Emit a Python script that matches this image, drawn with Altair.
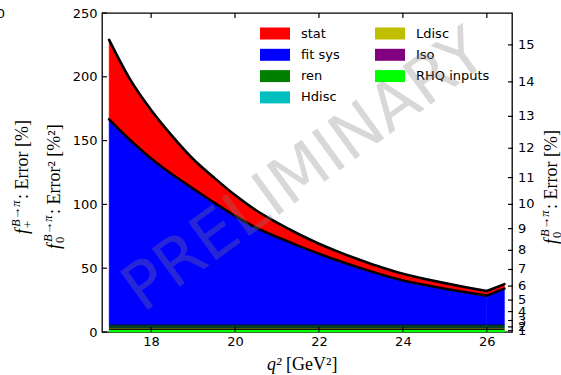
import altair as alt
import pandas as pd

# q^2 sample points [GeV^2]
q2 = [17.0, 17.5, 18.0, 18.5, 19.0, 19.5, 20.0, 20.5, 21.0, 21.5,
      22.0, 22.5, 23.0, 23.5, 24.0, 24.5, 25.0, 25.5, 26.0, 26.42]

# squared error contributions [%^2]
stat = [62.3, 47.5, 38.0, 30.1, 23.2, 19.6, 16.3, 13.6, 11.3, 9.3,
        7.9, 7.0, 6.3, 5.7, 5.2, 4.8, 4.4, 4.0, 3.6, 3.5]
fit_sys = [161.2, 145.0, 130.5, 118.1, 106.9, 95.9, 85.5, 76.3, 68.9, 62.2,
           55.8, 49.9, 44.4, 39.3, 34.9, 31.5, 28.4, 25.6, 23.0, 28.5]
ren = [1.4, 1.4, 1.4, 1.4, 1.4, 1.4, 1.4, 1.4, 1.4, 1.4,
       1.4, 1.4, 1.4, 1.4, 1.4, 1.4, 1.4, 1.4, 1.4, 1.4]
hdisc = [0.8, 0.8, 0.8, 0.8, 0.8, 0.8, 0.8, 0.8, 0.8, 0.8,
         0.8, 0.8, 0.8, 0.8, 0.8, 0.8, 0.8, 0.8, 0.8, 0.8]
ldisc = [1.1, 1.1, 1.1, 1.1, 1.1, 1.1, 1.1, 1.1, 1.1, 1.1,
         1.1, 1.1, 1.1, 1.1, 1.1, 1.1, 1.1, 1.1, 1.1, 1.1]
iso = [0.1, 0.1, 0.1, 0.1, 0.1, 0.1, 0.1, 0.1, 0.1, 0.1,
       0.1, 0.1, 0.1, 0.1, 0.1, 0.1, 0.1, 0.1, 0.1, 0.1]
rhq = [2.1, 2.1, 2.1, 2.1, 2.1, 2.1, 2.1, 2.1, 2.1, 2.1,
       2.1, 2.1, 2.1, 2.1, 2.1, 2.1, 2.1, 2.1, 2.1, 2.1]

sources = ["stat", "fit sys", "ren", "Hdisc", "Ldisc", "Iso", "RHQ inputs"]
colors = ["#ff0000", "#0000ff", "#008000", "#00bfbf", "#bfbf00", "#800080", "#00ff00"]
series = [stat, fit_sys, ren, hdisc, ldisc, iso, rhq]

x_ticks = [18, 20, 22, 24, 26]
y_ticks = [0, 50, 100, 150, 200, 250]
right_ticks = list(range(1, 16))  # error in %, placed at error^2

KINK = 26.0  # the curves turn up sharply here
W, H = 410, 319

# cumulative stack, bottom layer is the last source
rows = []
base = [0.0] * len(q2)
for name, vals in reversed(list(zip(sources, series))):
    top = [b + v for b, v in zip(base, vals)]
    for i, q in enumerate(q2):
        rec = {"source": name, "q2": q, "base": base[i], "top": top[i]}
        if q <= KINK:
            rows.append({**rec, "seg": "smooth"})
        if q >= KINK:
            rows.append({**rec, "seg": "tail"})
    base = top
stack_df = pd.DataFrame(rows)

x_scale = alt.Scale(domain=[16.83, 26.60], nice=False, zero=False)
y_scale = alt.Scale(domain=[0, 250], nice=False, zero=True)
color_scale = alt.Scale(domain=sources, range=colors)


def xenc():
    return alt.X("q2:Q", scale=x_scale,
                 axis=alt.Axis(values=x_ticks, title=None, format="d", labelPadding=3))


def yenc(field):
    return alt.Y(f"{field}:Q", scale=y_scale,
                 axis=alt.Axis(values=y_ticks, title=None, format="d", labelPadding=5))


def stack_layers(seg, interp):
    d = alt.Chart(stack_df).transform_filter(f"datum.seg == '{seg}'")
    area = d.mark_area(interpolate=interp, strokeWidth=0.5).encode(
        x=xenc(), y=yenc("top"), y2="base:Q",
        color=alt.Color("source:N", scale=color_scale, legend=None),
        stroke=alt.Color("source:N", scale=color_scale, legend=None),
    )
    thin = d.transform_filter(
        "datum.source != 'stat' && datum.source != 'fit sys'"
    ).mark_line(color="black", strokeWidth=0.8, interpolate=interp).encode(
        x=xenc(), y=yenc("top"), detail="source:N")
    thick = d.transform_filter(
        "datum.source == 'stat' || datum.source == 'fit sys'"
    ).mark_line(color="black", strokeWidth=2.6, strokeJoin="round", strokeCap="round",
                interpolate=interp).encode(
        x=xenc(), y=yenc("top"), detail="source:N")
    return [area, thin, thick]


layers_smooth = stack_layers("smooth", "monotone")
layers_tail = stack_layers("tail", "linear")

# inward ticks on all four sides
xt_df = pd.DataFrame({"q2": x_ticks})
yt_df = pd.DataFrame({"err2": y_ticks})
rt_df = pd.DataFrame({"err2": [k * k for k in right_ticks],
                      "label": [str(k) for k in right_ticks]})

bottom_ticks = alt.Chart(xt_df).mark_rule(color="black", strokeWidth=1.2).encode(
    x=xenc(), y=alt.value(H), y2=alt.value(H - 5))
top_ticks = alt.Chart(xt_df).mark_rule(color="black", strokeWidth=1.2).encode(
    x=xenc(), y=alt.value(0), y2=alt.value(5))
left_ticks = alt.Chart(yt_df).mark_rule(color="black", strokeWidth=1.2).encode(
    y=yenc("err2"), x=alt.value(0), x2=alt.value(5))
right_tick_marks = alt.Chart(rt_df).mark_rule(color="black", strokeWidth=1.2).encode(
    y=yenc("err2"), x=alt.value(W - 4), x2=alt.value(W + 1))
right_labels = alt.Chart(rt_df).mark_text(
    align="left", baseline="middle", font="DejaVu Sans", fontSize=13, color="black"
).encode(y=yenc("err2"), x=alt.value(W + 6), text="label:N")

one = pd.DataFrame({"a": [0]})


def txt(s, x, y, size, style="normal", angle=270, align="left",
        font="Liberation Serif", color="black", baseline="alphabetic", opacity=1.0):
    return alt.Chart(one).mark_text(
        text=s, angle=angle, align=align, baseline=baseline, font=font,
        fontSize=size, fontStyle=style, color=color, opacity=opacity
    ).encode(x=alt.value(x), y=alt.value(y))


def ff_title(bx, fy, sub, rest):
    return [
        txt("f", bx, fy, 18, "italic"),
        txt("B\u2192\u03c0", bx - 8, fy - 7, 12.5, "italic"),
        txt(sub, bx + 4, fy - 6, 12.5),
        txt(rest, bx, fy - 35, 18),
    ]


titles = (
    ff_title(-74, 221, "+", ": Error [%]")
    + ff_title(-42, 236, "0", ": Error\u00b2 [%\u00b2]")
    + ff_title(455, 231, "0", ": Error [%]")
    + [
        txt("q\u00b2", 165, 357, 18, "italic", angle=0),
        txt("[GeV\u00b2]", 184, 357, 18, angle=0),
        txt("0", -97, 1, 13, angle=0, align="right", font="DejaVu Sans", baseline="middle"),
    ]
)

watermark = txt("PRELIMINARY", 203, 158, 65, angle=324, align="center",
                font="DejaVu Sans", color="#808080", baseline="middle", opacity=0.3)

# legend: two columns of colour swatches
leg = pd.DataFrame({"source": sources, "color": colors})
leg["col"] = [i // 4 for i in range(len(sources))]
leg["row"] = [i % 4 for i in range(len(sources))]
leg["x0"] = 158 + leg["col"] * 115
leg["x1"] = leg["x0"] + 30
leg["xt"] = leg["x0"] + 41
leg["yc"] = 20.5 + leg["row"] * 21.3
leg["y0"] = leg["yc"] - 6
leg["y1"] = leg["yc"] + 6

leg_rects = alt.Chart(leg).mark_rect().encode(
    x=alt.X("x0:Q", scale=None), x2="x1:Q",
    y=alt.Y("y0:Q", scale=None), y2="y1:Q",
    color=alt.Color("color:N", scale=None),
)
leg_text = alt.Chart(leg).mark_text(
    align="left", baseline="middle", font="DejaVu Sans", fontSize=13, color="black"
).encode(
    x=alt.X("xt:Q", scale=None), y=alt.Y("yc:Q", scale=None), text="source:N"
)

chart = alt.layer(
    *layers_smooth, *layers_tail,
    bottom_ticks, top_ticks, left_ticks, right_tick_marks, right_labels,
    leg_rects, leg_text, *titles, watermark,
).properties(
    width=W, height=H,
    autosize=alt.AutoSizeParams(type="none"),
    padding={"left": 102, "top": 13, "right": 49, "bottom": 43},
).configure_view(
    stroke="black", strokeWidth=1.3
).configure_axis(
    domain=False, ticks=False, grid=False,
    labelFont="DejaVu Sans", labelFontSize=13, labelColor="black",
)

chart.save("out.html", embed_options={"renderer": "svg", "actions": False})
